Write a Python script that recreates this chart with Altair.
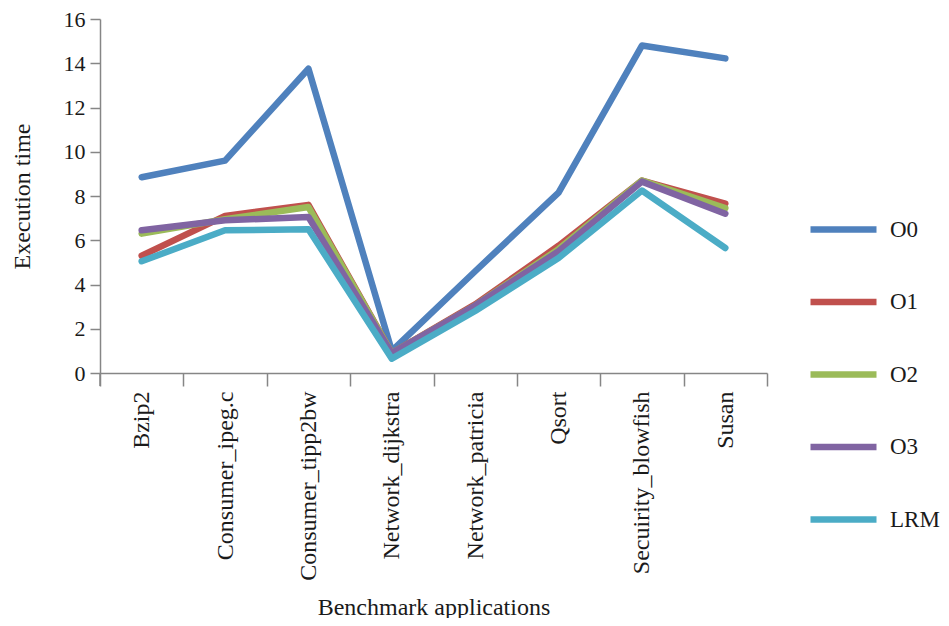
import altair as alt
import pandas as pd

categories = ["Bzip2", "Consumer_ipeg.c", "Consumer_tipp2bw", "Network_dijkstra",
              "Network_patricia", "Qsort", "Secuirity_blowfish", "Susan"]
series_names = ["O0", "O1", "O2", "O3", "LRM"]
o0 = [8.85, 9.6, 13.75, 1.0, 4.6, 8.15, 14.8, 14.22]
o1 = [5.3, 7.1, 7.6, 0.9, 3.1, 5.75, 8.7, 7.65]
o2 = [6.3, 6.95, 7.5, 0.9, 3.05, 5.6, 8.7, 7.45]
o3 = [6.45, 6.9, 7.05, 0.9, 3.05, 5.5, 8.65, 7.2]
lrm = [5.05, 6.45, 6.5, 0.65, 2.8, 5.2, 8.25, 5.65]
colors = ["#4F81BD", "#C0504D", "#9BBB59", "#8064A2", "#4BACC6"]
y_ticks = [0, 2, 4, 6, 8, 10, 12, 14, 16]

rows = []
for name, vals in zip(series_names, [o0, o1, o2, o3, lrm]):
    for i, (c, v) in enumerate(zip(categories, vals)):
        rows.append({"app": c, "series": name, "time": v, "idx": i})
df = pd.DataFrame(rows)

FONT = "Liberation Serif"
AXIS_COLOR = "#868686"
TXT = "#1a1a1a"

lines = alt.Chart(df).mark_line(strokeWidth=6.5, strokeCap="round", strokeJoin="round").encode(
    x=alt.X("app:N", sort=categories, bandPosition=0.5,
            scale=alt.Scale(type="band", paddingInner=0, paddingOuter=0),
            axis=alt.Axis(title="Benchmark applications", labelAngle=-90, tickBand="extent",
                          tickSize=13, labelPadding=5, labelLimit=400,
                          domainColor=AXIS_COLOR, tickColor=AXIS_COLOR,
                          labelFont=FONT, labelFontSize=24, labelColor=TXT,
                          titleFont=FONT, titleFontSize=24, titleFontWeight="normal",
                          titleColor=TXT, titleY=234, titleBaseline="middle",
                          domainWidth=1.5, tickWidth=1.5)),
    y=alt.Y("time:Q", scale=alt.Scale(domain=[0, 16], nice=False),
            axis=alt.Axis(title="Execution time", values=y_ticks, grid=False, tickSize=10,
                          labelPadding=5, domainColor=AXIS_COLOR, tickColor=AXIS_COLOR,
                          labelFont=FONT, labelFontSize=22, labelColor=TXT,
                          titleFont=FONT, titleFontSize=24, titleFontWeight="normal",
                          titleColor=TXT, titleX=-78, titleBaseline="middle",
                          domainWidth=1.5, tickWidth=1.5)),
    color=alt.Color("series:N", sort=series_names,
                    scale=alt.Scale(domain=series_names, range=colors),
                    legend=alt.Legend(title=None, orient="none", legendX=707, legendY=174,
                                      symbolType="stroke", symbolSize=4356, symbolStrokeWidth=6.5,
                                      labelFont=FONT, labelFontSize=23, labelColor=TXT,
                                      labelOffset=10, rowPadding=22.5, padding=0)),
    order=alt.Order("idx:Q"),
    detail="series:N",
)

ext = alt.Chart(pd.DataFrame({"a": [0]})).mark_rule(color=AXIS_COLOR, strokeWidth=1.5).encode(
    x=alt.value(0), y=alt.value(354), y2=alt.value(367)
)

chart = alt.layer(lines, ext).properties(
    width=667, height=354,
    background="white",
    autosize=alt.AutoSizeParams(type="none"),
    padding={"left": 92, "top": 11, "right": 174, "bottom": 245},
).configure_view(strokeWidth=0, stroke="transparent")

chart.save("out.html", embed_options={"renderer": "svg", "actions": False})
